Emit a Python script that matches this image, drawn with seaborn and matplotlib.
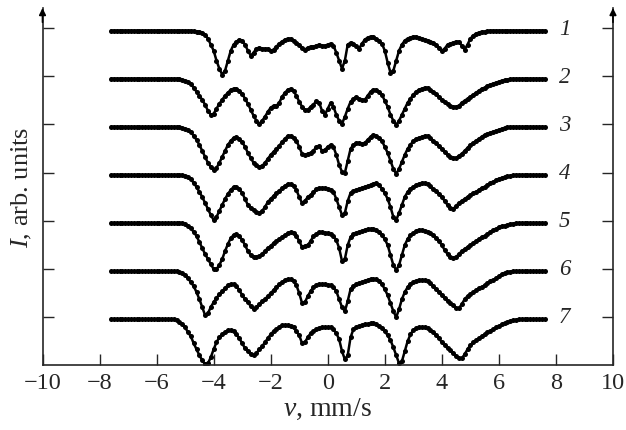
import numpy as np
import pandas as pd
import matplotlib
matplotlib.use('Agg')
import matplotlib.pyplot as plt
import seaborn as sns

# velocity channels, mm/s
velocity = np.linspace(-7.6, 7.6, 153)

# absorption depth below each baseline (arb. units), one value per channel
spec_1 = [
    0, 0, 0, 0, 0, 0, 0, 0, 0, 0,
    0, 0, 0, 0, 0, 0, 0, 0, 0, 0,
    0, 0, 0, 0, 0, 0, 0, 0, 0, 0.5,
    1, 1, 2, 4, 8, 14, 20, 30, 38, 44,
    40, 30, 20, 14, 11, 9, 10, 14, 20, 25,
    22, 18, 17, 18, 18, 18, 20, 19, 16, 13,
    11, 9, 8, 8, 10, 12, 14, 17, 19, 17,
    16, 16, 15, 14, 15, 15, 14, 13, 15, 22,
    30, 38, 30, 14, 12, 13, 15, 18, 13, 9,
    7, 6, 6, 8, 10, 13, 20, 32, 42, 40,
    30, 20, 14, 10, 8, 7, 6, 6, 7, 8,
    9, 10, 11, 12, 14, 17, 20, 18, 14, 13,
    12, 11, 11, 15, 19, 14, 8, 5, 3, 2,
    1, 1, 0.5, 0, 0, 0, 0, 0, 0, 0,
    0, 0, 0, 0, 0, 0, 0, 0, 0, 0,
    0, 0, 0]
spec_2 = [
    0, 0, 0, 0, 0, 0, 0, 0, 0, 0,
    0, 0, 0, 0, 0, 0, 0, 0, 0, 0,
    0, 0, 0, 0, 0, 1, 2, 3, 5, 9,
    13, 17, 21, 26, 32, 36, 35, 30, 25, 21,
    17, 14, 11, 10, 10, 12, 15, 20, 25, 31,
    37, 42, 45, 42, 38, 33, 29, 27, 27, 24,
    18, 14, 11, 10, 12, 17, 23, 28, 31, 31,
    28, 26, 22, 24, 32, 36, 30, 24, 28, 36,
    42, 45, 38, 30, 23, 20, 18, 20, 21, 21,
    17, 13, 11, 11, 13, 16, 22, 28, 36, 42,
    46, 42, 36, 30, 24, 20, 16, 13, 11, 10,
    9, 9, 11, 13, 15, 18, 21, 23, 25, 27,
    28, 28, 27, 24, 22, 20, 18, 16, 14, 12,
    10, 9, 7, 6, 5, 4, 3, 2, 1.5, 1,
    0.5, 0, 0, 0, 0, 0, 0, 0, 0, 0,
    0, 0, 0]
spec_3 = [
    0, 0, 0, 0, 0, 0, 0, 0, 0, 0,
    0, 0, 0, 0, 0, 0, 0, 0, 0, 0,
    0, 0, 0, 0, 0, 1, 2, 3, 5, 9,
    13, 18, 24, 30, 36, 40, 43, 41, 36, 30,
    24, 18, 14, 11, 10, 12, 15, 20, 26, 31,
    36, 38, 40, 39, 36, 32, 28, 25, 22, 19,
    15, 12, 9, 9, 11, 14, 20, 27, 28, 27,
    26, 24, 20, 19, 24, 23, 20, 18, 20, 28,
    38, 45, 46, 34, 22, 18, 16, 16, 17, 16,
    13, 10, 8, 9, 11, 14, 20, 26, 34, 42,
    47, 42, 35, 28, 22, 18, 14, 12, 11, 10,
    9, 9, 11, 14, 16, 19, 22, 25, 28, 30,
    31, 31, 29, 27, 24, 21, 18, 16, 14, 12,
    10, 8, 7, 6, 5, 4, 3, 2, 1, 0.5,
    0, 0, 0, 0, 0, 0, 0, 0, 0, 0,
    0, 0, 0]
spec_4 = [
    0, 0, 0, 0, 0, 0, 0, 0, 0, 0,
    0, 0, 0, 0, 0, 0, 0, 0, 0, 0,
    0, 0, 0, 0, 0, 0, 1, 2, 4, 8,
    12, 17, 22, 28, 34, 40, 45, 42, 36, 30,
    24, 19, 15, 12, 12, 14, 18, 24, 30, 33,
    35, 37, 38, 36, 32, 27, 24, 21, 18, 16,
    13, 11, 9, 9, 11, 15, 22, 28, 26, 22,
    20, 17, 14, 13, 13, 13, 14, 15, 17, 24,
    32, 40, 38, 26, 18, 16, 15, 14, 13, 12,
    11, 10, 9, 8, 10, 14, 18, 24, 32, 42,
    45, 38, 30, 22, 17, 14, 12, 10, 9, 8,
    8, 9, 11, 14, 16, 19, 22, 26, 30, 33,
    34, 31, 28, 26, 24, 22, 20, 18, 17, 15,
    13, 12, 10, 8, 7, 5, 4, 3, 2, 1.5,
    1, 0.5, 0, 0, 0, 0, 0, 0, 0, 0,
    0, 0, 0]
spec_5 = [
    0, 0, 0, 0, 0, 0, 0, 0, 0, 0,
    0, 0, 0, 0, 0, 0, 0, 0, 0, 0,
    0, 0, 0, 0, 0, 0, 1, 3, 5, 9,
    13, 19, 25, 31, 36, 41, 46, 46, 42, 36,
    28, 21, 15, 12, 11, 13, 17, 22, 28, 32,
    34, 34, 33, 31, 28, 25, 23, 20, 18, 16,
    14, 12, 10, 9, 10, 13, 18, 24, 23, 22,
    18, 13, 11, 9, 9, 10, 10, 11, 13, 17,
    25, 38, 36, 22, 14, 11, 10, 9, 8, 7,
    6, 6, 6, 7, 9, 12, 16, 22, 32, 42,
    47, 42, 32, 22, 16, 12, 10, 8, 7, 7,
    8, 9, 10, 12, 15, 18, 22, 27, 31, 34,
    35, 34, 31, 28, 26, 24, 22, 20, 18, 16,
    14, 13, 11, 9, 7, 6, 4, 3, 2.5, 2,
    1, 0.5, 0, 0, 0, 0, 0, 0, 0, 0,
    0, 0, 0]
spec_6 = [
    0, 0, 0, 0, 0, 0, 0, 0, 0, 0,
    0, 0, 0, 0, 0, 0, 0, 0, 0, 0,
    0, 0, 0, 0, 1, 2, 4, 7, 11, 15,
    21, 28, 36, 44, 42, 36, 31, 27, 23, 20,
    17, 14, 13, 13, 15, 19, 24, 28, 31, 35,
    38, 36, 33, 30, 28, 25, 22, 19, 16, 13,
    11, 9, 8, 8, 10, 14, 22, 32, 31, 25,
    20, 16, 14, 13, 13, 13, 14, 14, 16, 20,
    28, 36, 40, 30, 18, 15, 13, 12, 11, 10,
    9, 8, 8, 8, 10, 13, 18, 24, 32, 40,
    46, 38, 28, 21, 16, 13, 11, 10, 9, 9,
    9, 10, 12, 15, 18, 21, 24, 27, 30, 32,
    34, 37, 37, 33, 28, 25, 23, 21, 19, 17,
    16, 14, 12, 10, 9, 7, 5, 3, 2, 1,
    0.5, 0, 0, 0, 0, 0, 0, 0, 0, 0,
    0, 0, 0]
spec_7 = [
    0, 0, 0, 0, 0, 0, 0, 0, 0, 0,
    0, 0, 0, 0, 0, 0, 0, 0, 0, 0,
    0, 0, 0, 1, 3, 5, 8, 13, 17, 24,
    30, 36, 41, 45, 44, 38, 30, 23, 18, 15,
    13, 11, 11, 12, 15, 19, 24, 29, 32, 35,
    36, 34, 30, 27, 23, 19, 15, 12, 10, 8,
    6, 6, 6, 7, 8, 12, 16, 24, 23, 18,
    14, 12, 10, 9, 8, 8, 8, 8, 10, 14,
    20, 32, 40, 36, 18, 10, 8, 7, 6, 5,
    5, 4, 4, 5, 7, 9, 12, 16, 21, 28,
    36, 44, 42, 32, 22, 15, 11, 9, 8, 8,
    8, 9, 11, 13, 16, 19, 23, 26, 29, 31,
    34, 37, 39, 39, 35, 30, 26, 23, 21, 19,
    17, 15, 13, 12, 10, 8, 7, 5, 4, 3,
    2, 1, 0.5, 0, 0, 0, 0, 0, 0, 0,
    0, 0, 0]

spectra = [spec_1, spec_2, spec_3, spec_4, spec_5, spec_6, spec_7]
labels = ['1', '2', '3', '4', '5', '6', '7']

rows = []
for i, spec in enumerate(spectra):
    base = 7 - i - 0.05
    for v, d in zip(velocity, spec):
        rows.append({'v': v, 'I': base - d / 48.1, 'spectrum': labels[i]})
data = pd.DataFrame(rows)

sns.set_style('ticks')
plt.rcParams['font.family'] = ['Liberation Serif', 'DejaVu Serif']
plt.rcParams['mathtext.fontset'] = 'custom'
plt.rcParams['mathtext.rm'] = 'Liberation Serif'
plt.rcParams['mathtext.it'] = 'Liberation Serif:italic'

fig = plt.figure(figsize=(6.26, 4.31), dpi=100)
ax = fig.add_axes([0.0679, 0.1508, 0.9113, 0.8283])

sns.lineplot(data=data, x='v', y='I', units='spectrum', estimator=None,
             color='black', linewidth=1.8, ax=ax, legend=False)
sns.scatterplot(data=data, x='v', y='I', color='black', s=13,
                linewidth=0, ax=ax, legend=False)

for i, lab in enumerate(labels):
    ax.text(8.3, 7 - i, lab, fontsize=16.5, fontstyle='italic',
            ha='center', va='center')

ax.set_xlim(-10, 10)
ax.set_ylim(0, 7.42)
ax.set_xticks(np.arange(-10, 11, 2))
ax.set_yticks(np.arange(1, 8))
ax.tick_params(axis='x', direction='in', length=8, width=1, pad=5,
               labelsize=17.5, top=False)
ax.tick_params(axis='y', direction='in', length=8, width=1, left=True,
               right=True, labelleft=False)
for side in ['left', 'right', 'bottom']:
    ax.spines[side].set_linewidth(1.2)
ax.spines['top'].set_visible(False)

for xa in [0, 1]:
    ax.annotate('', xy=(xa, 1.0), xytext=(xa, 0.96), xycoords='axes fraction',
                arrowprops=dict(arrowstyle='-|>', color='black', lw=1.2,
                                mutation_scale=10, shrinkA=0, shrinkB=0))

ax.set_xlabel('$v$, mm/s', fontsize=20, labelpad=2)
ax.set_ylabel('$I$, arb. units', fontsize=19, labelpad=6)

fig.savefig('out.png', dpi=100)
